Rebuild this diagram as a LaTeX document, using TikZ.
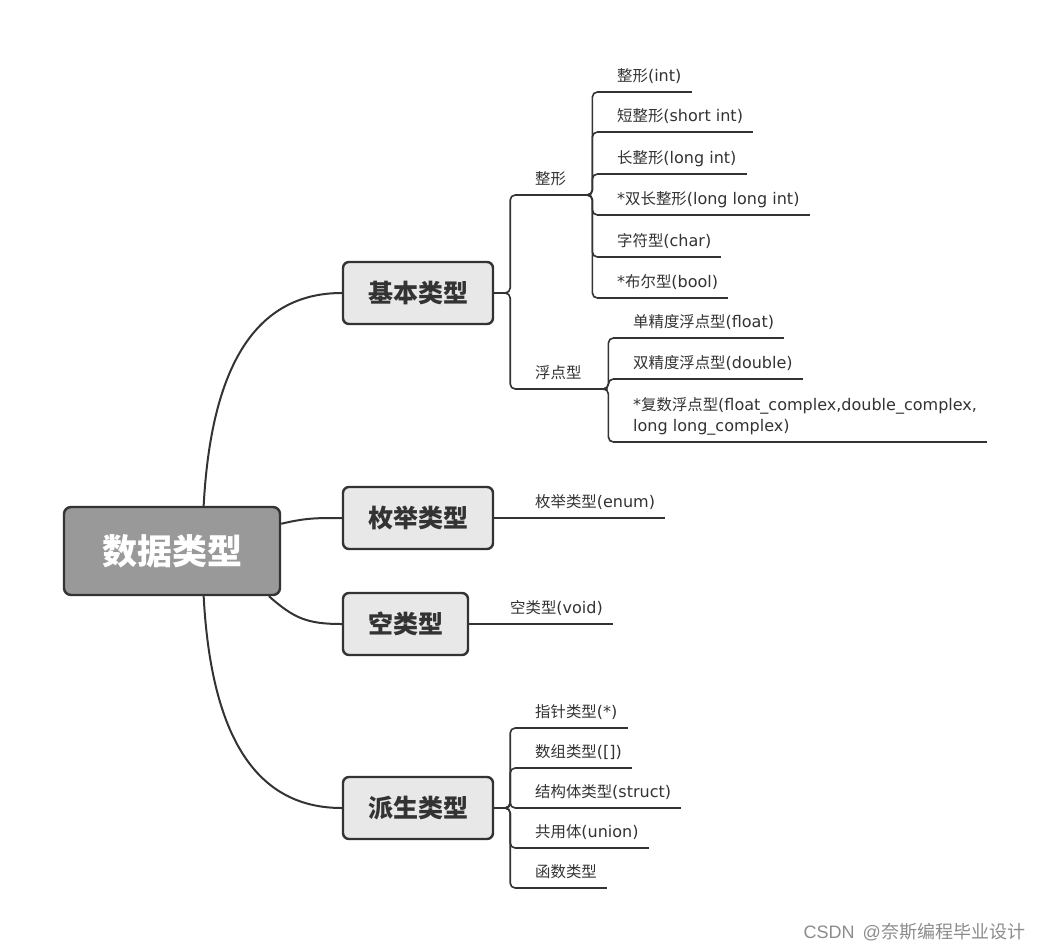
\documentclass[tikz,border=0pt]{standalone}
\usepackage{fontspec}
\setmainfont{DejaVu Sans}[Scale=1.04]
\newfontfamily\cjk{Noto Sans CJK SC}
\newfontfamily\wmfont{Liberation Sans}
\newcommand\zh[1]{{\cjk #1}}
\usetikzlibrary{calc}
\definecolor{ink}{HTML}{333333}
\definecolor{rootfill}{HTML}{999999}
\definecolor{branchfill}{HTML}{E8E8E8}
\definecolor{wm}{HTML}{8C8C8C}
\tikzset{
  rootbox/.style={draw=ink, line width=2.4pt, fill=rootfill, rounded corners=7pt, minimum width=216pt, minimum height=88pt, inner sep=0pt, text=white, font=\fontsize{35}{40}\selectfont\cjk\bfseries},
  branch/.style={draw=ink, line width=2.4pt, fill=branchfill, rounded corners=6pt, minimum height=62pt, inner xsep=25pt, inner ysep=0pt, text=ink, font=\fontsize{25}{30}\selectfont\cjk\bfseries},
  leaf/.style={anchor=south west, inner xsep=10pt, inner ysep=0pt, text height=12pt, text depth=10pt, text=ink, font=\fontsize{15.4}{21}\selectfont, align=left},
  uline/.style={draw=ink, line width=2pt},
  conn/.style={draw=ink, line width=1.6pt, rounded corners=5pt},
  curve/.style={draw=ink, line width=2pt},
}
\begin{document}
\begin{tikzpicture}[x=1pt,y=-1pt]
\useasboundingbox (0,0) rectangle (1042,951);
\fill[white] (0,0) rectangle (1042,951);
% main nodes
\node[rootbox] (root) at (172,551) {数据类型};
\node[branch] (basic) at (418,293) {基本类型};
\node[branch] (enum) at (418,518) {枚举类型};
\node[branch] (void) at (405.5,624) {空类型};
\node[branch] (deriv) at (418,808) {派生类型};
% basic subtree
\node[leaf, text width=45pt] (int) at (525,195) {\zh{整形}};
\node[leaf] (i1) at (607,92) {\zh{整形}(int)};
\node[leaf] (i2) at (607,132) {\zh{短整形}(short int)};
\node[leaf] (i3) at (607,174) {\zh{长整形}(long int)};
\node[leaf] (i4) at (607,215) {*\zh{双长整形}(long long int)};
\node[leaf] (i5) at (607,257) {\zh{字符型}(char)};
\node[leaf] (i6) at (607,298) {*\zh{布尔型}(bool)};
\node[leaf, text width=62pt] (flt) at (525,389) {\zh{浮点型}};
\node[leaf] (f1) at (623,338) {\zh{单精度浮点型}(float)};
\node[leaf] (f2) at (623,379) {\zh{双精度浮点型}(double)};
\node[leaf] (f3) at (623,442) {*\zh{复数浮点型}(float\_complex,double\_complex,\\long long\_complex)};
% enum / void
\node[leaf] (e1) at (525,518) {\zh{枚举类型}(enum)};
\node[leaf] (v1) at (500,624) {\zh{空类型}(void)};
% derived
\node[leaf] (d1) at (525,728) {\zh{指针类型}(*)};
\node[leaf] (d2) at (525,768) {\zh{数组类型}([])};
\node[leaf] (d3) at (525,808) {\zh{结构体类型}(struct)};
\node[leaf] (d4) at (525,848) {\zh{共用体}(union)};
\node[leaf] (d5) at (525,888) {\zh{函数类型}};
% watermark
\node[text=wm, font=\fontsize{18}{20}\selectfont\wmfont, anchor=east, inner sep=0pt] (wmk) at (1026,932) {CSDN\hspace{3pt} @\hspace{1pt}\zh{奈斯编程毕业设计}};
% root curves
\draw[curve] (root.55) .. controls +(8,-150) and +(-80,0) .. (basic.west);
\draw[curve] (root.14) .. controls +(25,-6) and +(-25,0) .. (enum.west);
\draw[curve] (root.-25) .. controls +(25,22) and +(-35,0) .. (void.west);
\draw[curve] (root.-55) .. controls +(8,150) and +(-80,0) .. (deriv.west);
% brackets
\draw[conn] (basic.east) -- ++(16,0) |- (int.south west);
\draw[conn] (basic.east) -- ++(16,0) |- (flt.south west);
\foreach \n in {i1,i2,i3,i4,i5,i6} \draw[conn] (int.south east) -- ++(2,0) |- (\n.south west);
\foreach \n in {f1,f2,f3} \draw[conn] (flt.south east) -- ++(1,0) |- (\n.south west);
\draw[conn] (enum.east) -- (e1.south west);
\draw[conn] (void.east) -- (v1.south west);
\foreach \n in {d1,d2,d3,d4,d5} \draw[conn] (deriv.east) -- ++(16,0) |- (\n.south west);
% underlines
\foreach \n in {int,i1,i2,i3,i4,i5,i6,flt,f1,f2,f3,e1,v1,d1,d2,d3,d4,d5} \draw[uline] (\n.south west) -- (\n.south east);
\end{tikzpicture}
\end{document}
